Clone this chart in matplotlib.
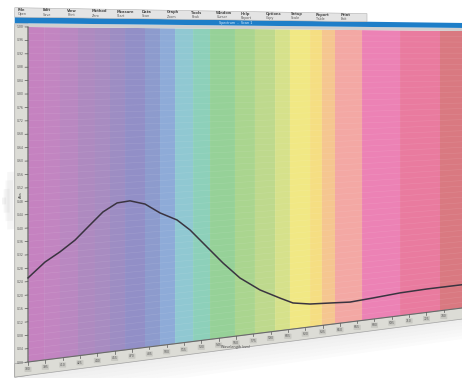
import numpy as np
import matplotlib
matplotlib.use("Agg")
import matplotlib.pyplot as plt
from matplotlib.transforms import Transform
from matplotlib.patches import Rectangle

# ---------------- data ----------------
wavelength_nm = [380.0, 394.7, 407.7, 420.7, 433.7, 444.9, 457.1, 468.3, 481.3,
                 494.3, 509.0, 520.3, 535.0, 548.8, 563.5, 580.9, 598.2, 609.4,
                 624.2, 644.1, 658.8, 678.7, 702.1, 725.5, 755.8, 780.0]
absorbance = [0.251, 0.294, 0.321, 0.353, 0.396, 0.433, 0.458, 0.462, 0.449,
              0.418, 0.392, 0.357, 0.298, 0.242, 0.188, 0.142, 0.108, 0.087,
              0.077, 0.072, 0.068, 0.073, 0.080, 0.083, 0.084, 0.085]

band_edges_nm = [380.0, 393.9, 407.7, 423.3, 438.0, 451.0, 464.0, 481.3, 494.3,
                 507.3, 522.9, 537.6, 559.2, 576.5, 593.9, 606.8, 624.2, 634.5,
                 645.8, 669.2, 702.1, 736.7, 780.0]
band_colors = ["#c582c0", "#c285c1", "#b988c1", "#ae8ac0", "#a88cc1", "#9d8dc3",
               "#928fc7", "#8d9bcd", "#8eabd8", "#90c8d2", "#8dd0ba", "#96d198",
               "#aad58f", "#bed98d", "#d6e18b", "#f1e884", "#f5de82", "#f5c690",
               "#f3a8a4", "#ec82b5", "#e97b9f", "#d97981"]

x_ticks_nm = list(range(380, 751, 15))
y_ticks = [round(0.04 * i, 2) for i in range(26)]
menu_items = ["File", "Edit", "View", "Method", "Measure", "Data", "Graph",
              "Tools", "Window", "Help", "Options", "Setup", "Report", "Print"]
tool_items = ["Open", "Save", "Print", "Zero", "Start", "Scan", "Zoom",
              "Peak", "Cursor", "Report", "Copy", "Scale", "Table", "Exit"]

# ---------------- figure ----------------
DPI = 100
W_PX, H_PX = 462, 378
fig = plt.figure(figsize=(W_PX / DPI, H_PX / DPI), dpi=DPI)
fig.patch.set_facecolor("white")
ax = fig.add_axes([0, 0, 1, 1])
ax.set_xlim(380, 780)
ax.set_ylim(0, 1)
ax.axis("off")


class Perspective(Transform):
    """Maps axes fraction (u, v) onto the slanted screen in figure pixels."""
    input_dims = 2
    output_dims = 2
    is_separable = False
    has_inverse = False

    def transform_non_affine(self, values):
        xy = np.asarray(values, dtype=float).reshape(-1, 2)
        u, v = xy[:, 0], xy[:, 1]
        x_img = 28.0 + u * 462.0
        t = (x_img - 28.0) / 434.0
        ytop = 27.0 + 4.0 * t
        ybot = 362.0 - 54.0 * t
        y_img = ybot - v * (ybot - ytop)
        return np.column_stack([x_img, H_PX - y_img])


P = ax.transScale + ax.transLimits + Perspective()


def rect(x0, y0, w, h, **kw):
    r = Rectangle((x0, y0), w, h, transform=P, clip_on=False, **kw)
    ax.add_patch(r)
    return r


# shadows around the monitor
for i, a in enumerate([0.05, 0.05, 0.06, 0.07]):
    rect(362 - i * 1.5, 0.40 + i * 0.025, 8 - i * 1.5, 0.17 - i * 0.05,
         facecolor="#707070", edgecolor="none", alpha=a, lw=0)
for i in range(6):
    rect(368, -0.04 - 0.012 * (i + 1), 420, 0.012, facecolor="#606060",
         edgecolor="none", alpha=0.10 - 0.015 * i, lw=0)

# colour bands
for lo, hi, c in zip(band_edges_nm[:-1], band_edges_nm[1:], band_colors):
    rect(lo, 0, hi - lo, 1, facecolor=c, edgecolor="none", lw=0)

# faint horizontal raster lines
for yv in np.arange(0.02, 1.0, 0.02):
    ax.plot([380, 780], [yv, yv], transform=P, color="#ffffff", lw=0.4,
            alpha=0.12, clip_on=False)

# frame (left and bottom rulers)
rect(368.5, -0.04, 11.5, 1.05, facecolor="#dcdcd6", edgecolor="#a0a0a0", lw=0.5)
rect(368.5, -0.04, 420, 0.04, facecolor="#dcdcd6", edgecolor="#a0a0a0", lw=0.5)
ax.plot([380, 380, 780], [1.0, 0.0, 0.0], transform=P, color="#6a6a6a",
        lw=0.8, clip_on=False)

for yt in y_ticks:
    ax.plot([377.5, 380], [yt, yt], transform=P, color="#555555", lw=0.5,
            clip_on=False)
    ax.text(373.5, yt, f"{yt:.2f}", transform=P, fontsize=2.2,
            color="#555555", ha="center", va="center")
for xt in x_ticks_nm:
    ax.plot([xt, xt], [0, -0.008], transform=P, color="#555555", lw=0.5,
            clip_on=False)
    ax.text(xt, -0.022, f"{xt}", transform=P, fontsize=2.2, color="#555555",
            ha="center", va="center",
            bbox=dict(boxstyle="round,pad=0.2", fc="#c8c8c2", ec="none"))
ax.text(373.5, 0.50, "Abs", transform=P, fontsize=2.6, color="#444444",
        rotation=90, ha="center", va="center")
ax.text(560, -0.034, "Wavelength (nm)", transform=P, fontsize=2.4,
        color="#444444", ha="center", va="center")

# title bar and toolbar
rect(368.5, 1.0, 420, 0.011, facecolor="#cfcfcf", edgecolor="none", lw=0)
rect(368.5, 1.011, 420, 0.018, facecolor="#1e7ec8", edgecolor="none", lw=0)
ax.text(560, 1.020, "Spectrum  -  Scan 1", transform=P, fontsize=2.4,
        color="#dfefff", ha="center", va="center")
rect(368.5, 1.029, 305, 0.028, facecolor="#e4e4e4", edgecolor="#b0b0b0",
     lw=0.4)
for i, m in enumerate(menu_items):
    ax.text(371 + i * 21.5, 1.050, m, transform=P, fontsize=2.6,
            color="#4a4a4a", ha="left", va="center", fontweight="bold")
for i, m in enumerate(tool_items):
    ax.text(371 + i * 21.5, 1.037, m, transform=P, fontsize=2.4,
            color="#5a5a5a", ha="left", va="center")

# spectrum curve
ax.plot(wavelength_nm, absorbance, transform=P, color="#3a3440", lw=1.1,
        solid_joinstyle="round", clip_on=False)

fig.savefig("out.png", dpi=DPI)
